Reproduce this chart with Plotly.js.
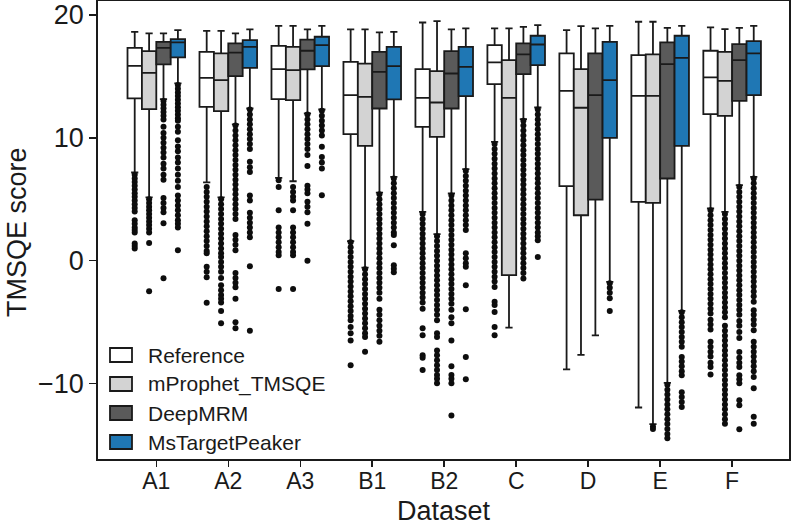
<!DOCTYPE html>
<html>
<head>
<meta charset="utf-8">
<script src="https://cdn.plot.ly/plotly-3.0.1.min.js"></script>
<style>
  html, body { margin: 0; padding: 0; background: #ffffff; }
  #chart { width: 791px; height: 526px; }
</style>
</head>
<body>
<div id="chart"></div>
<script>
// Datasets on the x axis and the four scoring methods
const datasets = ['A1', 'A2', 'A3', 'B1', 'B2', 'C', 'D', 'E', 'F'];
const methods = ['Reference', 'mProphet_TMSQE', 'DeepMRM', 'MsTargetPeaker'];

// Box summaries per dataset: whisker ends, quartiles and median
const refUpper  = [18.63, 18.71, 19.12, 18.83, 19.39, 18.91, 18.77, 19.45, 18.99];
const refQ3     = [17.33, 17.00, 17.49, 16.19, 15.59, 17.55, 16.87, 16.73, 17.09];
const refMedian = [15.86, 14.89, 15.59, 13.48, 13.26, 16.14, 13.83, 13.42, 14.92];
const refQ1     = [13.21, 12.52, 13.15, 10.30, 10.90, 14.37, 6.07, 4.79, 11.93];
const refLower  = [7.18, 6.37, 6.74, 1.59, 3.97, 9.67, -8.84, -11.95, 4.25];

const mpUpper  = [18.50, 18.71, 19.12, 18.83, 19.50, 18.91, 19.10, 19.45, 18.85];
const mpQ3     = [17.06, 16.87, 17.41, 16.05, 15.43, 16.33, 15.59, 16.79, 17.00];
const mpMedian = [15.29, 14.70, 15.51, 13.34, 12.88, 13.26, 12.45, 13.42, 14.64];
const mpQ1     = [12.34, 12.17, 13.07, 9.35, 10.08, -1.18, 3.70, 4.71, 11.79];
const mpLower  = [5.15, 5.15, 6.47, -0.56, 2.16, -5.44, -7.67, -13.30, 3.97];

const dmUpper  = [18.50, 18.50, 18.83, 18.58, 18.83, 19.04, 18.91, 18.96, 18.96];
const dmQ3     = [17.82, 17.69, 18.00, 17.00, 17.06, 17.69, 16.87, 17.77, 17.63];
const dmMedian = [17.33, 16.93, 17.09, 15.37, 15.24, 16.79, 13.48, 16.00, 16.33];
const dmQ1     = [15.98, 15.02, 15.57, 12.39, 12.39, 15.19, 4.98, 6.69, 13.01];
const dmLower  = [13.15, 11.09, 11.99, 5.55, 5.47, 11.52, -6.07, -9.95, 6.15];

const mtpUpper  = [18.77, 18.83, 19.12, 18.63, 18.91, 19.18, 19.12, 19.12, 19.12];
const mtpQ3     = [18.04, 17.96, 18.23, 17.41, 17.41, 18.31, 17.82, 18.31, 17.87];
const mtpMedian = [17.77, 17.41, 17.55, 15.84, 15.78, 17.60, 14.70, 16.51, 16.87];
const mtpQ1     = [16.55, 15.70, 15.84, 13.13, 13.40, 15.92, 10.00, 9.35, 13.48];
const mtpLower  = [14.43, 12.39, 12.31, 6.83, 7.45, 12.47, -1.73, -4.09, 6.83];

// Outlying scores beyond the whiskers, one list per dataset
const refOutliers = [
  [7.0, 6.7, 6.4, 6.1, 5.8, 5.5, 5.2, 4.9, 4.6, 4.3, 4.0, 3.3, 3.0, 2.7, 2.5, 2.3, 1.4, 1.2, 1.0],
  [6.0, 5.6, 5.2, 4.8, 4.4, 4.0, 3.6, 3.2, 2.8, 2.4, 2.0, 1.6, 1.2, 0.8, 0.6, -0.5, -0.9, -1.35, -3.43],
  [6.55, 6.0, 4.1, 2.7, 2.3, 1.9, 1.5, 1.1, 0.7, 0.45, -2.3],
  [1.5, 1.1, 0.7, 0.3, -0.1, -0.5, -0.9, -1.3, -1.7, -2.1, -2.5, -2.9, -3.3, -3.7, -4.1, -4.5, -4.85, -5.4, -5.9, -6.5, -8.5],
  [3.8, 3.4, 3.0, 2.6, 2.2, 1.8, 1.4, 1.0, 0.6, 0.2, -0.2, -0.6, -1.0, -1.4, -1.8, -2.2, -2.6, -3.0, -3.4, -3.9, -5.5, -6.07, -7.7, -7.9, -8.9],
  [9.5, 9.1, 8.7, 8.3, 7.9, 7.5, 7.1, 6.7, 6.3, 5.9, 5.5, 5.1, 4.7, 4.3, 3.9, 3.5, 3.1, 2.7, 2.3, 1.9, 1.5, 1.1, 0.7, 0.3, -0.1, -0.5, -0.9, -1.3, -1.7, -2.13, -3.35, -3.6, -4.17, -5.39, -6.07],
  [],
  [],
  [4.1, 3.7, 3.3, 2.9, 2.5, 2.1, 1.7, 1.3, 0.9, 0.5, 0.1, -0.3, -0.7, -1.1, -1.5, -1.9, -2.3, -2.7, -3.1, -3.5, -3.9, -4.3, -4.8, -5.2, -5.6, -6.6, -7.0, -7.4, -7.8, -8.3, -8.65, -9.27]
];
const mpOutliers = [
  [5.0, 4.7, 4.4, 4.1, 3.8, 3.5, 3.2, 2.9, 2.6, 2.3, 1.45, -2.48],
  [5.0, 4.6, 4.2, 3.8, 3.4, 3.0, 2.6, 2.2, 1.8, 1.4, 1.0, 0.6, 0.3, -0.1, -0.5, -0.9, -1.4, -2.0, -2.4, -2.8, -3.1, -3.4, -4.1, -5.1],
  [6.0, 5.6, 5.2, 4.9, 4.1, 2.7, 2.3, 1.9, 1.5, 1.1, 0.7, 0.45, -2.3],
  [-0.7, -1.1, -1.5, -1.9, -2.3, -2.7, -3.1, -3.5, -3.9, -4.3, -4.7, -5.1, -5.5, -5.9, -6.2, -7.4],
  [2.0, 1.6, 1.2, 0.8, 0.4, 0.0, -0.4, -0.8, -1.2, -1.6, -2.0, -2.4, -2.8, -3.2, -3.6, -4.0, -4.4, -4.85, -5.9, -6.2, -7.3, -7.7, -8.1, -8.5, -8.9, -9.3, -9.6, -9.97],
  [],
  [],
  [-13.5, -13.7],
  [3.8, 3.4, 3.0, 2.6, 2.2, 1.8, 1.4, 1.0, 0.6, 0.2, -0.2, -0.6, -1.0, -1.4, -1.8, -2.2, -2.6, -3.0, -3.4, -3.8, -4.2, -4.6, -5.3, -5.7, -6.1, -6.5, -6.9, -7.3, -7.7, -8.1, -8.5, -8.9, -9.3, -9.7, -10.1, -10.5, -10.9, -11.3, -11.7, -12.1, -12.5, -12.9, -13.27]
];
const dmOutliers = [
  [13.0, 12.7, 12.4, 12.1, 11.8, 11.5, 10.9, 10.4, 10.0, 9.6, 9.2, 8.8, 8.4, 7.9, 7.5, 7.0, 6.6, 5.1, 4.7, 4.3, 3.95, 3.05, -1.43],
  [11.0, 10.6, 10.2, 9.8, 9.4, 9.0, 8.6, 8.2, 7.8, 7.4, 7.0, 6.6, 6.2, 5.8, 5.4, 5.0, 4.6, 4.2, 3.8, 3.4, 2.1, 1.7, 1.3, 0.85, -1.0, -1.4, -1.8, -2.15, -3.1, -5.0, -5.5],
  [11.9, 11.5, 11.1, 10.7, 10.3, 9.9, 9.5, 9.1, 8.6, 7.7, 6.1, 5.8, 5.5, 4.8, 4.4, 3.95, 3.0, 0.0],
  [5.4, 5.0, 4.6, 4.2, 3.8, 3.4, 3.0, 2.6, 2.2, 1.8, 1.4, 1.0, 0.6, 0.2, -0.2, -0.6, -1.0, -1.4, -1.8, -2.2, -2.6, -3.1, -4.0, -4.4, -4.85, -5.3, -5.7, -6.1, -6.6],
  [5.3, 4.9, 4.5, 4.1, 3.7, 3.3, 2.9, 2.5, 2.1, 1.7, 1.3, 0.9, 0.5, 0.1, -0.3, -0.7, -1.1, -1.5, -1.9, -2.3, -2.7, -3.1, -3.5, -4.0, -4.6, -5.1, -6.5, -8.6, -9.3, -9.6, -9.97, -12.6],
  [11.4, 11.0, 10.6, 10.2, 9.8, 9.4, 9.0, 8.6, 8.2, 7.8, 7.4, 7.0, 6.6, 6.2, 5.8, 5.4, 5.0, 4.6, 4.2, 3.8, 3.4, 3.0, 2.6, 2.2, 1.8, 1.4, 1.0, 0.6, 0.2, -0.2, -0.6, -1.0, -1.45],
  [],
  [-10.1, -10.5, -10.9, -11.3, -11.7, -12.1, -12.5, -12.9, -13.3, -13.7, -14.1, -14.45],
  [6.0, 5.6, 5.2, 4.8, 4.4, 4.0, 3.6, 3.2, 2.8, 2.4, 2.0, 1.6, 1.2, 0.8, 0.4, 0.0, -0.4, -0.8, -1.2, -1.6, -2.0, -2.4, -2.8, -3.2, -3.6, -4.0, -4.4, -4.9, -5.3, -5.8, -6.3, -7.43, -7.9, -8.3, -8.65, -9.32, -9.65, -9.97, -11.36, -11.77, -13.72]
];
const mtpOutliers = [
  [14.3, 14.0, 13.7, 13.4, 13.1, 12.8, 12.5, 12.2, 11.9, 11.6, 11.4, 10.9, 10.5, 9.8, 9.3, 8.9, 8.4, 8.0, 7.5, 7.0, 6.5, 6.0, 5.3, 4.9, 4.5, 4.1, 3.7, 3.3, 3.0, 2.7, 0.85],
  [12.3, 11.9, 11.5, 11.1, 10.7, 10.3, 9.9, 9.5, 9.1, 8.05, 7.6, 7.23, 5.3, 4.9, 3.9, 3.5, 3.1, 2.7, 2.3, 1.9, -0.45, -5.7],
  [12.2, 11.8, 11.4, 11.0, 10.6, 10.2, 9.27, 8.45, 8.0, 7.5, 5.33],
  [6.7, 6.3, 5.9, 5.5, 5.1, 4.7, 4.3, 3.9, 3.5, 3.1, 2.7, 2.3, 2.1, 1.26, -0.37, -0.65, -0.94],
  [7.3, 6.9, 6.5, 6.1, 5.7, 5.3, 4.9, 4.5, 4.1, 3.7, 3.3, 2.9, 2.5, 0.6, 0.2, -0.2, -0.5, -2.0, -3.95, -7.83, -9.65],
  [12.3, 11.9, 11.5, 11.1, 10.7, 10.3, 9.9, 9.5, 9.1, 8.7, 8.3, 7.9, 7.5, 7.1, 6.7, 6.3, 5.9, 5.5, 5.1, 4.7, 4.3, 3.9, 3.5, 3.1, 2.7, 2.3, 2.0, 1.67, 0.3],
  [-1.83, -2.2, -2.6, -3.05, -4.1],
  [-4.2, -4.6, -5.0, -5.4, -5.8, -6.2, -6.6, -7.0, -7.83, -8.2, -8.6, -9.0, -9.32, -10.7, -11.1, -11.5, -11.9],
  [6.7, 6.3, 5.9, 5.5, 5.1, 4.7, 4.3, 3.9, 3.5, 3.1, 2.7, 2.3, 1.9, 1.5, 1.1, 0.7, 0.3, -0.1, -0.5, -0.9, -1.3, -1.7, -2.1, -2.5, -2.9, -3.35, -4.03, -4.4, -4.8, -5.2, -5.66, -6.6, -7.0, -7.4, -7.8, -8.2, -8.6, -9.0, -9.46, -10.38, -12.7, -13.27]
];

const methodData = [
  { upper: refUpper, q3: refQ3, median: refMedian, q1: refQ1, lower: refLower, outliers: refOutliers },
  { upper: mpUpper, q3: mpQ3, median: mpMedian, q1: mpQ1, lower: mpLower, outliers: mpOutliers },
  { upper: dmUpper, q3: dmQ3, median: dmMedian, q1: dmQ1, lower: dmLower, outliers: dmOutliers },
  { upper: mtpUpper, q3: mtpQ3, median: mtpMedian, q1: mtpQ1, lower: mtpLower, outliers: mtpOutliers }
];

// Styling
const fillColors = ['#ffffff', '#d3d3d3', '#5a5a5a', '#1f77b4'];
const edgeColor = '#1a1a1a';
const boxWidth = 0.2;
const offsets = [-0.3, -0.1, 0.1, 0.3];
const fontFamily = 'Liberation Sans, Arial, Helvetica, sans-serif';

const traces = [];
methodData.forEach((m, k) => {
  const pos = datasets.map((_, i) => i + offsets[k]);
  traces.push({
    type: 'box',
    name: methods[k],
    x: pos,
    q1: m.q1,
    median: m.median,
    q3: m.q3,
    lowerfence: m.lower,
    upperfence: m.upper,
    width: boxWidth,
    whiskerwidth: 0.5,
    boxpoints: false,
    fillcolor: fillColors[k],
    line: { color: edgeColor, width: 1.8 },
    hoverinfo: 'skip',
    showlegend: false
  });
});
methodData.forEach((m, k) => {
  const xs = [], ys = [];
  m.outliers.forEach((vals, i) => {
    vals.forEach(v => { xs.push(i + offsets[k]); ys.push(v); });
  });
  traces.push({
    type: 'scatter',
    mode: 'markers',
    x: xs,
    y: ys,
    marker: { color: '#0d0d0d', size: 6, line: { width: 0 } },
    hoverinfo: 'skip',
    showlegend: false
  });
});

// Plot-area geometry in pixels, used to place the legend keys and y title
const W = 791, H = 526;
const margin = { l: 98, r: 2, t: 1, b: 67 };
const plotW = W - margin.l - margin.r;
const plotH = H - margin.t - margin.b;
const px2x = px => (px - margin.l) / plotW;
const px2y = py => (H - margin.b - py) / plotH;

const legendRows = [355, 384, 413, 442];
const shapes = [];
const annotations = [];
methods.forEach((name, k) => {
  const cy = legendRows[k];
  shapes.push({
    type: 'rect', xref: 'paper', yref: 'paper',
    x0: px2x(110), x1: px2x(132), y0: px2y(cy + 7), y1: px2y(cy - 7),
    fillcolor: fillColors[k], line: { color: edgeColor, width: 1.8 }
  });
  annotations.push({
    xref: 'paper', yref: 'paper', x: px2x(146), y: px2y(cy),
    xanchor: 'left', yanchor: 'middle', showarrow: false,
    text: name, font: { size: 21, color: '#1a1a1a', family: fontFamily }
  });
});

// Vertical axis title, set close to the left edge
annotations.push({
  xref: 'paper', yref: 'paper', x: px2x(17), y: px2y(232),
  xanchor: 'center', yanchor: 'middle', showarrow: false, textangle: -90,
  borderpad: 0,
  text: 'TMSQE score', font: { size: 27, color: '#1a1a1a', family: fontFamily }
});

const layout = {
  width: W, height: H,
  margin: margin,
  paper_bgcolor: '#ffffff',
  plot_bgcolor: '#ffffff',
  showlegend: false,
  boxmode: 'overlay',
  boxgap: 0, boxgroupgap: 0,
  font: { family: fontFamily, color: '#1a1a1a' },
  xaxis: {
    range: [-0.81, 8.79],
    tickmode: 'array', tickvals: datasets.map((_, i) => i), ticktext: datasets,
    ticks: 'outside', ticklen: 6, tickwidth: 1.5, tickcolor: edgeColor,
    ticklabelstandoff: -5,
    showline: true, mirror: true, linecolor: edgeColor, linewidth: 1.8,
    showgrid: false, zeroline: false,
    tickfont: { size: 23 },
    title: { text: 'Dataset', font: { size: 27 }, standoff: 14 }
  },
  yaxis: {
    range: [-16.14, 21.14],
    tickmode: 'array', tickvals: [-10, 0, 10, 20],
    ticks: 'outside', ticklen: 7, tickwidth: 1.5, tickcolor: edgeColor,
    showline: true, mirror: true, linecolor: edgeColor, linewidth: 1.8,
    showgrid: false, zeroline: false,
    tickfont: { size: 27 }
  },
  shapes: shapes,
  annotations: annotations
};

Plotly.newPlot('chart', traces, layout, { staticPlot: true, displayModeBar: false });
</script>
</body>
</html>
